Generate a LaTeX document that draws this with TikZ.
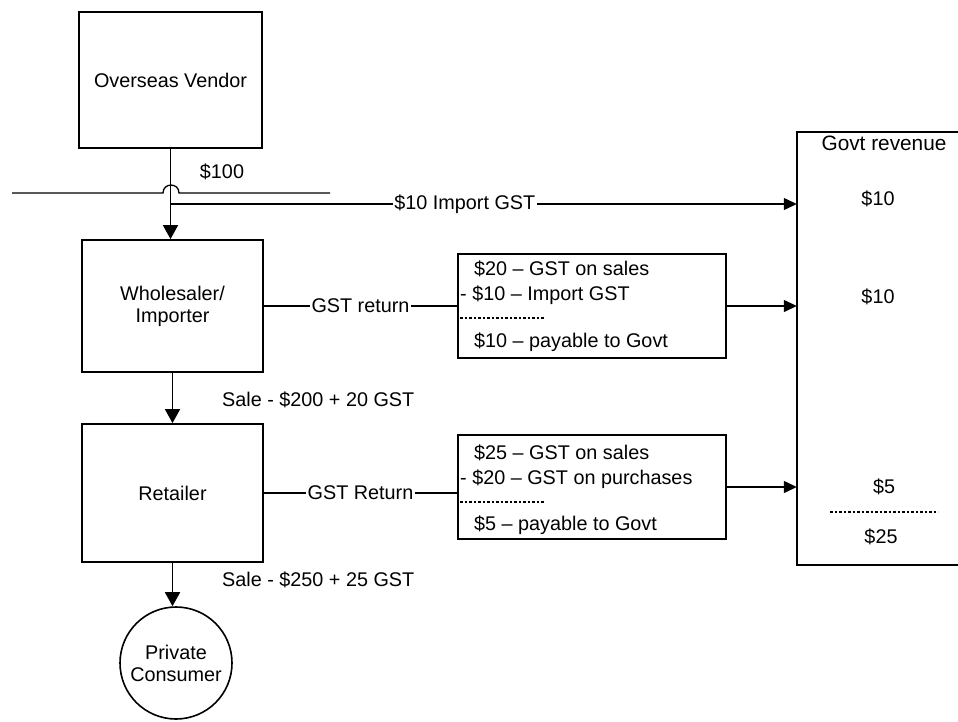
\documentclass[tikz,border=0pt]{standalone}
\usepackage{fontspec}
\setmainfont{Liberation Sans}
\usetikzlibrary{arrows.meta}
\begin{document}
\begin{tikzpicture}[x=1pt,y=-1pt,
  font=\fontsize{19.8}{22}\selectfont,
  box/.style={draw, line width=1.8pt, inner sep=0pt},
  conn/.style={line width=1.3pt},
  vline/.style={line width=1.8pt, -{Triangle[length=14pt,width=15pt]}},
  harr/.style={line width=1.3pt, -{Triangle[length=13pt,width=12pt]}},
  lbl/.style={inner sep=1.5pt, fill=white},
  txt/.style={inner sep=0pt, anchor=west},
  sep/.style={line width=1.6pt, dash pattern=on 2.5pt off 2pt}]
\useasboundingbox (0,0) rectangle (958,721);

% main chain
\node[box, minimum width=183pt, minimum height=136pt] (vendor) at (170.5,80) {Overseas Vendor};
\node[box, minimum width=181pt, minimum height=132pt, align=center] (wholesaler) at (172.5,306) {Wholesaler/\\Importer};
\node[box, minimum width=181pt, minimum height=138pt] (retailer) at (172.5,493) {Retailer};
\node[draw, line width=1.6pt, circle, minimum size=112pt, inner sep=0pt, align=center] (consumer) at (176,663) {Private\\Consumer};

% GST return boxes
\node[box, minimum width=268pt, minimum height=104pt] (box1) at (592,306) {};
\node[box, minimum width=268pt, minimum height=104pt] (box2) at (592,487) {};

% Government revenue box (open at right edge)
\node[inner sep=0pt, minimum width=161pt, minimum height=433pt] (govt) at (877.5,348.5) {};
\draw[line width=1.8pt] (govt.north east) -- (govt.north west) -- (govt.south west) -- (govt.south east);

% texts in box1
\node[txt] (b1a) at (474,269) {\$20 \textendash{} GST on sales};
\node[txt] (b1b) at (460,295) {- \$10 \textendash{} Import GST};
\coordinate (b1s) at (460,318);
\draw[sep] (b1s) -- ++(85,0);
\node[txt] (b1c) at (474,342) {\$10 \textendash{} payable to Govt};

% texts in box2
\node[txt] (b2a) at (474,453) {\$25 \textendash{} GST on sales};
\node[txt] (b2b) at (460,479) {- \$20 \textendash{} GST on purchases};
\coordinate (b2s) at (460,502);
\draw[sep] (b2s) -- ++(85,0);
\node[txt] (b2c) at (474,525) {\$5 \textendash{} payable to Govt};

% texts in govt box
\node (g0) at (884,143) {\fontsize{20.8}{22}\selectfont Govt revenue};
\node (g1) at (878,199) {\$10};
\node (g2) at (878,297) {\$10};
\node (g3) at (884,487) {\$5};
\coordinate (gs) at (830,512);
\draw[sep, line width=1.3pt] (gs) -- (938,512);
\node (g4) at (881,537) {\$25};

% hop line across the top arrow
\coordinate (hl) at (12,193);
\coordinate (hr) at (330,193);
\draw[conn] (hl) -- (163,193) to[out=90,in=90,looseness=1.7] (179,193) -- (hr);

% vertical flows
\draw[vline] (vendor.south) -- (vendor.south |- wholesaler.north);
\node[inner sep=0pt] (l100) at (222,172) {\$100};
\draw[vline] (wholesaler.south) -- (wholesaler.south |- retailer.north);
\node[txt] (ls1) at (222,400) {Sale - \$200 + 20 GST};
\draw[vline] (retailer.south) -- (retailer.south |- consumer.north);
\node[txt] (ls2) at (222,580) {Sale - \$250 + 25 GST};

% import GST
\coordinate (imp) at (vendor.south |- 0,204);
\draw[harr] (imp) -- (imp -| govt.west) node[lbl, pos=0.47] {\$10 Import GST};

% GST returns
\draw[conn] (wholesaler.east) -- (box1.west) node[lbl, midway] {GST return};
\draw[harr] (box1.east) -- (box1.east -| govt.west);
\draw[conn] (retailer.east) -- (retailer.east -| box2.west) node[lbl, midway] {GST Return};
\draw[harr] (box2.east) -- (box2.east -| govt.west);
\end{tikzpicture}
\end{document}
